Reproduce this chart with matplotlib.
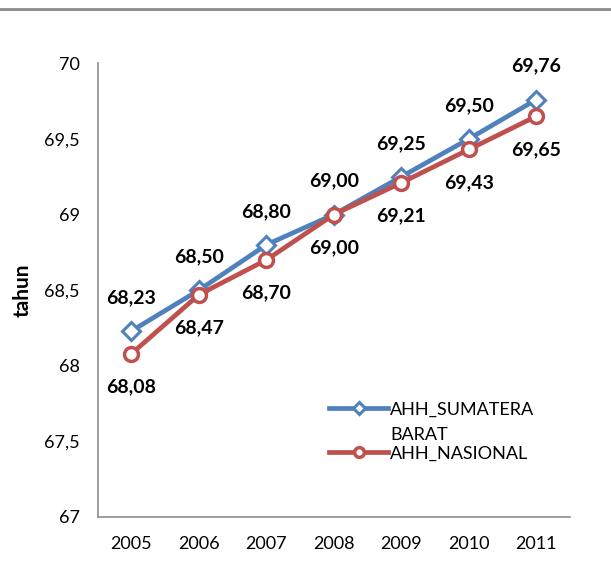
import matplotlib.pyplot as plt
from matplotlib.lines import Line2D

plt.rcParams['font.family'] = ['Lato', 'DejaVu Sans']

years = ['2005', '2006', '2007', '2008', '2009', '2010', '2011']
sumbar = [68.23, 68.50, 68.80, 69.00, 69.25, 69.50, 69.76]
nasional = [68.08, 68.47, 68.70, 69.00, 69.21, 69.43, 69.65]
yticks = [67, 67.5, 68, 68.5, 69, 69.5, 70]

blue = '#4F81BD'
red = '#C0504D'
gray = '#8C8C8C'

fig = plt.figure(figsize=(6.11, 5.65), dpi=100)
ax = fig.add_axes([0.160, 0.085, 0.773, 0.803])

x = range(len(years))
ax.plot(x, sumbar, color=blue, lw=3.4, marker='D', ms=9, mfc='white',
        mec=blue, mew=2.2, label='AHH_SUMATERA\nBARAT', zorder=3)
ax.plot(x, nasional, color=red, lw=3.4, marker='o', ms=10, mfc='white',
        mec=red, mew=2.5, label='AHH_NASIONAL', zorder=3)

def fmt(v):
    return ('%.2f' % v).replace('.', ',')

for i, (a, b) in enumerate(zip(sumbar, nasional)):
    ax.annotate(fmt(a), (i, a), xytext=(0, 24), textcoords='offset points',
                ha='center', va='center', fontsize=14, fontweight='bold')
    ax.annotate(fmt(b), (i, b), xytext=(0, -24), textcoords='offset points',
                ha='center', va='center', fontsize=14, fontweight='bold')

ax.set_xlim(-0.5, len(years) - 0.5)
ax.set_ylim(67, 70)
ax.set_xticks(list(x))
ax.set_xticklabels(years)
ax.set_yticks(yticks)
ax.set_yticklabels([('%g' % t).replace('.', ',') for t in yticks])
ax.tick_params(axis='y', length=0, labelsize=13, pad=13)
ax.tick_params(axis='x', length=0, labelsize=13, pad=14)
for s in ['top', 'right']:
    ax.spines[s].set_visible(False)
for s in ['left', 'bottom']:
    ax.spines[s].set_color(gray)
    ax.spines[s].set_linewidth(1.2)

ax.set_ylabel('tahun', fontsize=15, fontweight='bold', labelpad=8)

leg = ax.legend(loc='upper left', bbox_to_anchor=(0.455, 0.29), frameon=False,
                fontsize=13, handlelength=3.3, handletextpad=0.1,
                labelspacing=0.15, markerscale=0.7)
for col in leg._legend_handle_box.get_children():
    for row in col.get_children():
        row.align = 'top'
for t in leg.get_texts():
    t.set_linespacing(1.75)

fig.add_artist(Line2D([0, 1], [0.984, 0.984], color=gray, lw=2,
                      transform=fig.transFigure))

plt.savefig('out.png')
